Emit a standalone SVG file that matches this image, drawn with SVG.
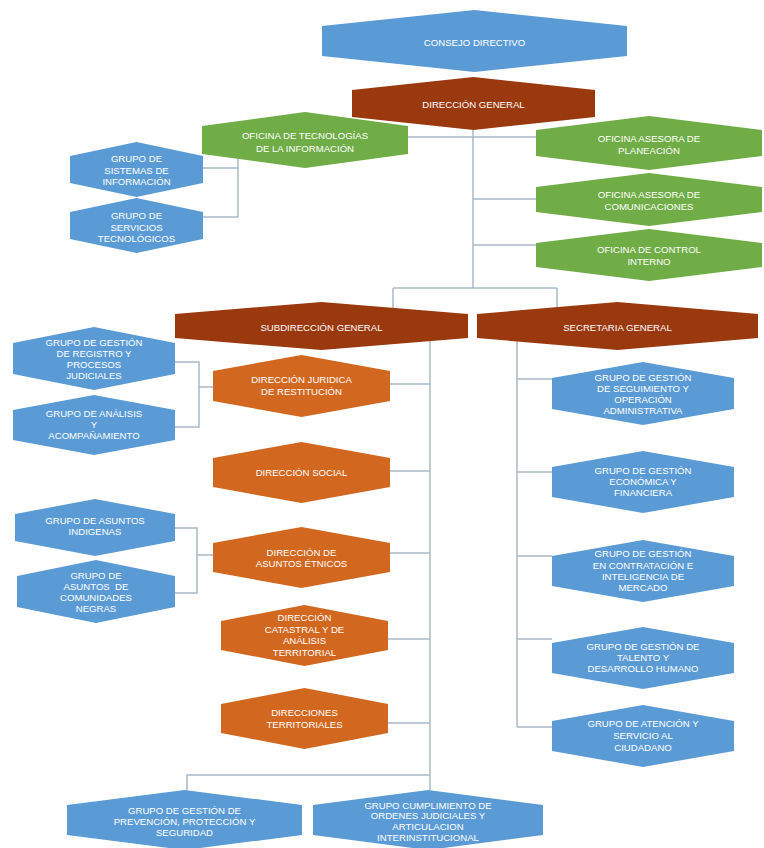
<svg xmlns="http://www.w3.org/2000/svg" width="764" height="848" viewBox="0 0 764 848">
<style>
.b{fill:#5B9BD5}
.r{fill:#9A380E}
.o{fill:#D2671F}
.g{fill:#70AD47}
text{fill:#ffffff;font-family:"Liberation Sans",Arial,sans-serif;font-size:9.6px;text-anchor:middle;dominant-baseline:central}
.c path{fill:none;stroke:#A9B8C9;stroke-width:1.5}
</style>
<rect width="764" height="848" fill="#ffffff"/>
<g class="c" id="connectors">
<path d="M473 130 V288"/>
<path d="M408 137 H536"/>
<path d="M473 199 H536"/>
<path d="M473 245 H536"/>
<path d="M238 159 V217"/>
<path d="M203 168 H238"/>
<path d="M203 217 H238"/>
<path d="M393 288 H557"/>
<path d="M393 288 V308"/>
<path d="M557 288 V308"/>
<path d="M430 341 V790"/>
<path d="M517 341 V727"/>
<path d="M390 384 H430"/>
<path d="M390 471 H430"/>
<path d="M390 553 H430"/>
<path d="M388 639 H430"/>
<path d="M388 723 H430"/>
<path d="M517 379 H552"/>
<path d="M517 472 H552"/>
<path d="M517 556 H552"/>
<path d="M517 639 H552"/>
<path d="M517 727 H552"/>
<path d="M175 362 H199 V427 H175"/>
<path d="M199 387 H213"/>
<path d="M175 528 H197 V593 H175"/>
<path d="M197 555 H213"/>
<path d="M430 775 H187 V791"/>
</g>
<g id="consejo"><polygon class="b" points="322,26 474.5,10 627,26 627,56 474.5,72 322,56"/><text x="474.5" y="42">CONSEJO DIRECTIVO</text></g>
<g id="direccion-general"><polygon class="r" points="352,90 473.5,77 595,90 595,117 473.5,130 352,117"/><text x="473.5" y="104">DIRECCIÓN GENERAL</text></g>
<g id="oficina-ti"><polygon class="g" points="202,126 305,112 408,126 408,154 305,168 202,154"/><text x="305" y="135">OFICINA DE TECNOLOGÍAS</text><text x="305" y="148">DE LA INFORMACIÓN</text></g>
<g id="planeacion"><polygon class="g" points="536,130 649,116 762,130 762,156 649,170 536,156"/><text x="649" y="138">OFICINA ASESORA DE</text><text x="649" y="150">PLANEACIÓN</text></g>
<g id="comunicaciones"><polygon class="g" points="536,187 649,173 762,187 762,212 649,226 536,212"/><text x="649" y="194">OFICINA ASESORA DE</text><text x="649" y="206">COMUNICACIONES</text></g>
<g id="control-interno"><polygon class="g" points="536,243 649,229 762,243 762,267 649,281 536,267"/><text x="649" y="249">OFICINA DE CONTROL</text><text x="649" y="261">INTERNO</text></g>
<g id="sistemas"><polygon class="b" points="70,156 136.5,142 203,156 203,183 136.5,197 70,183"/><text x="136.5" y="158">GRUPO DE</text><text x="136.5" y="170">SISTEMAS DE</text><text x="136.5" y="181">INFORMACIÓN</text></g>
<g id="servicios"><polygon class="b" points="70,212 136.5,198 203,212 203,239 136.5,253 70,239"/><text x="136.5" y="215">GRUPO DE</text><text x="136.5" y="227">SERVICIOS</text><text x="136.5" y="238">TECNOLÓGICOS</text></g>
<g id="subdireccion"><polygon class="r" points="175,314 321.5,302 468,314 468,338 321.5,350 175,338"/><text x="321.5" y="327">SUBDIRECCIÓN GENERAL</text></g>
<g id="secretaria"><polygon class="r" points="477,314 617.5,302 758,314 758,338 617.5,350 477,338"/><text x="617.5" y="327">SECRETARIA GENERAL</text></g>
<g id="juridica"><polygon class="o" points="213,371 301.5,355 390,371 390,401 301.5,417 213,401"/><text x="301.5" y="379">DIRECCIÓN JURIDICA</text><text x="301.5" y="391">DE RESTITUCIÓN</text></g>
<g id="social"><polygon class="o" points="213,458 301.5,442 390,458 390,487 301.5,503 213,487"/><text x="301.5" y="472">DIRECCIÓN SOCIAL</text></g>
<g id="etnicos"><polygon class="o" points="213,543 301.5,527 390,543 390,572 301.5,588 213,572"/><text x="301.5" y="552">DIRECCIÓN DE</text><text x="301.5" y="563">ASUNTOS ÉTNICOS</text></g>
<g id="catastral"><polygon class="o" points="221,621 304.5,605 388,621 388,650 304.5,666 221,650"/><text x="304.5" y="617">DIRECCIÓN</text><text x="304.5" y="629">CATASTRAL Y DE</text><text x="304.5" y="640">ANÁLISIS</text><text x="304.5" y="652">TERRITORIAL</text></g>
<g id="territoriales"><polygon class="o" points="221,704 304.5,688 388,704 388,733 304.5,749 221,733"/><text x="304.5" y="712">DIRECCIONES</text><text x="304.5" y="724">TERRITORIALES</text></g>
<g id="registro"><polygon class="b" points="13,343 94,327 175,343 175,374 94,390 13,374"/><text x="94" y="342">GRUPO DE GESTIÓN</text><text x="94" y="353">DE REGISTRO Y</text><text x="94" y="364">PROCESOS</text><text x="94" y="375">JUDICIALES</text></g>
<g id="analisis"><polygon class="b" points="13,410 94,395 175,410 175,440 94,455 13,440"/><text x="94" y="413">GRUPO DE ANÁLISIS</text><text x="94" y="424">Y</text><text x="94" y="435">ACOMPAÑAMIENTO</text></g>
<g id="indigenas"><polygon class="b" points="15,514 95,499 175,514 175,541 95,556 15,541"/><text x="95" y="520">GRUPO DE ASUNTOS</text><text x="95" y="531">INDIGENAS</text></g>
<g id="negras"><polygon class="b" points="17,576 96,560 175,576 175,607 96,623 17,607"/><text x="96" y="575">GRUPO DE</text><text x="96" y="586" xml:space="preserve">ASUNTOS  DE</text><text x="96" y="597">COMUNIDADES</text><text x="96" y="608">NEGRAS</text></g>
<g id="seguimiento"><polygon class="b" points="552,378 643,362 734,378 734,409 643,425 552,409"/><text x="643" y="377">GRUPO DE GESTIÓN</text><text x="643" y="388">DE SEGUIMIENTO Y</text><text x="643" y="399">OPERACIÓN</text><text x="643" y="410">ADMINISTRATIVA</text></g>
<g id="economica"><polygon class="b" points="552,467 643,451 734,467 734,497 643,513 552,497"/><text x="643" y="470">GRUPO DE GESTIÓN</text><text x="643" y="481">ECONÓMICA Y</text><text x="643" y="492">FINANCIERA</text></g>
<g id="contratacion"><polygon class="b" points="552,556 643,540 734,556 734,586 643,602 552,586"/><text x="643" y="553">GRUPO DE GESTIÓN</text><text x="643" y="565">EN CONTRATACIÓN E</text><text x="643" y="576">INTELIGENCIA DE</text><text x="643" y="587">MERCADO</text></g>
<g id="talento"><polygon class="b" points="552,643 643,627 734,643 734,673 643,689 552,673"/><text x="643" y="646">GRUPO DE GESTIÓN DE</text><text x="643" y="657">TALENTO Y</text><text x="643" y="668">DESARROLLO HUMANO</text></g>
<g id="atencion"><polygon class="b" points="552,721 643,705 734,721 734,751 643,767 552,751"/><text x="643" y="723">GRUPO DE ATENCIÓN Y</text><text x="643" y="735">SERVICIO AL</text><text x="643" y="747">CIUDADANO</text></g>
<g id="prevencion"><polygon class="b" points="67,805 184.5,790 302,805 302,835 184.5,850 67,835"/><text x="184.5" y="810">GRUPO DE GESTIÓN DE</text><text x="184.5" y="821">PREVENCIÓN, PROTECCIÓN Y</text><text x="184.5" y="832">SEGURIDAD</text></g>
<g id="cumplimiento"><polygon class="b" points="313,805 428,790 543,805 543,835 428,850 313,835"/><text x="428" y="805">GRUPO CUMPLIMIENTO DE</text><text x="428" y="815">ORDENES JUDICIALES Y</text><text x="428" y="826">ARTICULACION</text><text x="428" y="837">INTERINSTITUCIONAL</text></g>
</svg>
